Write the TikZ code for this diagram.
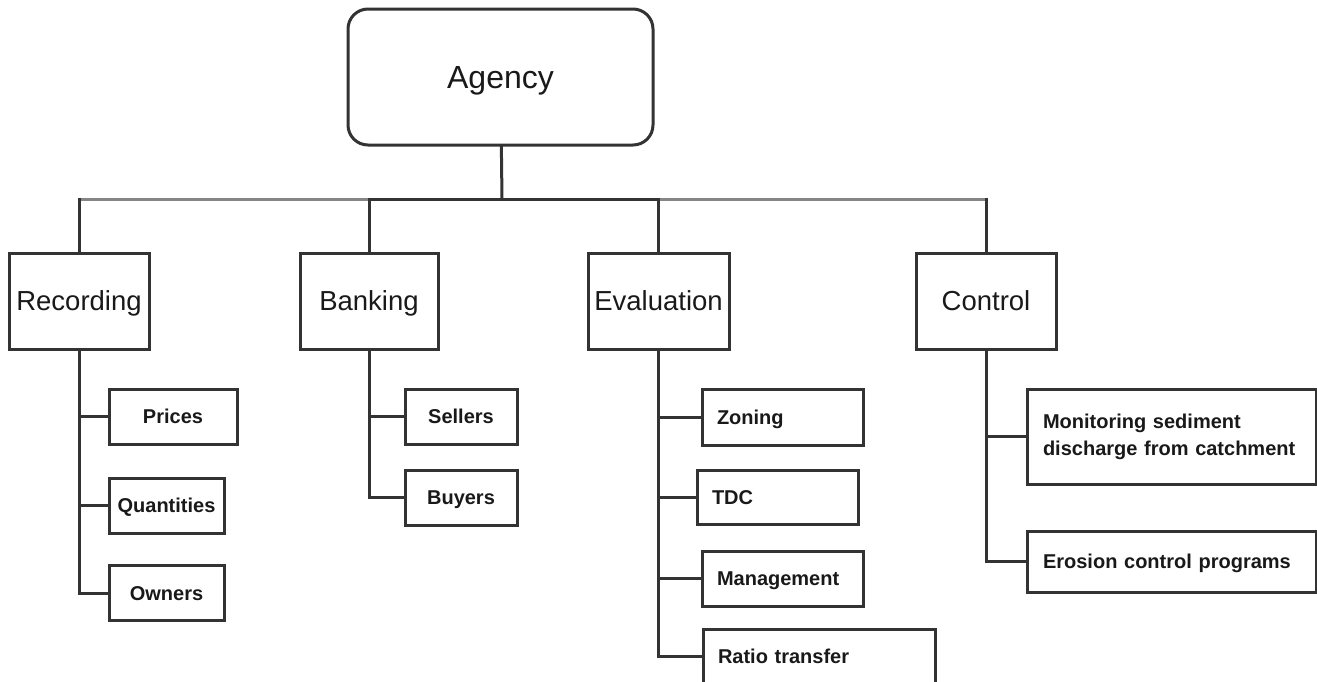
\documentclass[tikz,border=0pt]{standalone}
\usepackage{fontspec}
\setmainfont{Liberation Sans}
\usetikzlibrary{positioning}
\definecolor{linegray}{HTML}{333333}
\definecolor{busgray}{HTML}{858585}

\begin{document}
\begin{tikzpicture}[x=1pt,y=-1pt,
    unit/.style={draw=linegray,line width=3pt,inner sep=0pt,text=black!90,
                 minimum height=96pt,text height=19.7pt,text depth=0pt,
                 font=\fontsize{27.5}{32}\selectfont},
    task/.style={draw=linegray,line width=3pt,inner sep=0pt,text=black!90,
                 minimum height=55pt,text height=14.3pt,text depth=0pt,
                 font=\fontsize{20}{27}\selectfont\bfseries},
    tasktxt/.style={task,inner xsep=15pt,align=left},
    link/.style={linegray,line width=3pt,line cap=rect}
  ]
    \clip (0,0) rectangle (1317,681);
    \node[unit,rounded corners=20pt,minimum width=305pt,minimum height=136pt,
          text height=22.9pt,font=\fontsize{32}{36}\selectfont] (agency) at (500.5,77) {Agency};
    \node[unit,minimum width=140pt] (recording) at (79,301) {Recording};
    \node[unit,minimum width=138pt] (banking) at (369,301) {Banking};
    \node[unit,minimum width=141pt] (evaluation) at (658.5,301) {Evaluation};
    \node[unit,minimum width=140pt] (control) at (986,301) {Control};
    % second row of boxes
    \node[task,minimum width=128pt] (prices) at (173,416.5) {Prices};
    \node[task,minimum width=115pt] (quantities) at (166.5,505.5) {Quantities};
    \node[task,minimum width=115pt] (owners) at (166.5,593) {Owners};
    \node[task,minimum width=112pt] (sellers) at (461,416.5) {Sellers};
    \node[task,minimum width=112pt] (buyers) at (461,497.5) {Buyers};
    \node[tasktxt,text width=131pt,minimum height=56pt] (zoning) at (782.5,417) {Zoning};
    \node[tasktxt,text width=131pt,minimum height=54pt] (tdc) at (777.5,497) {TDC};
    \node[tasktxt,text width=131pt] (management) at (782.5,578.5) {Management};
    \node[tasktxt,text width=202pt] (ratio) at (819,656.5) {Ratio transfer};
    \node[tasktxt,inner xsep=16pt,text width=257pt,minimum height=95pt,
          text depth=31pt] (monitoring) at (1171.5,436.5)
        {Monitoring sediment\\discharge from catchment};
    \node[tasktxt,inner xsep=16pt,text width=257pt,minimum height=61pt] (erosion) at (1171.5,561.5)
        {Erosion control programs};
    % bus under the agency box
    \coordinate (bus) at (502,199);
    \draw[link] (agency) -- (bus);
    \draw[link,busgray] (recording.north |- bus) -- (banking.north |- bus);
    \draw[link,busgray] (evaluation.north |- bus) -- (control.north |- bus);
    \draw[link] (banking.north |- bus) -- (evaluation.north |- bus);
    \foreach \u in {recording,banking,evaluation,control}
      \draw[link] (\u.north |- bus) -- (\u);
    % spines down to the tasks
    \draw[link] (recording) |- (owners);
    \foreach \c in {prices,quantities}
      \draw[link] (recording.south |- \c) -- (\c);
    \draw[link] (banking) |- (buyers);
    \draw[link] (banking.south |- sellers) -- (sellers);
    \draw[link] (evaluation) |- (ratio);
    \foreach \c in {zoning,tdc,management}
      \draw[link] (evaluation.south |- \c) -- (\c);
    \draw[link] (control) |- (erosion);
    \draw[link] (control.south |- monitoring) -- (monitoring);
\end{tikzpicture}
\end{document}
